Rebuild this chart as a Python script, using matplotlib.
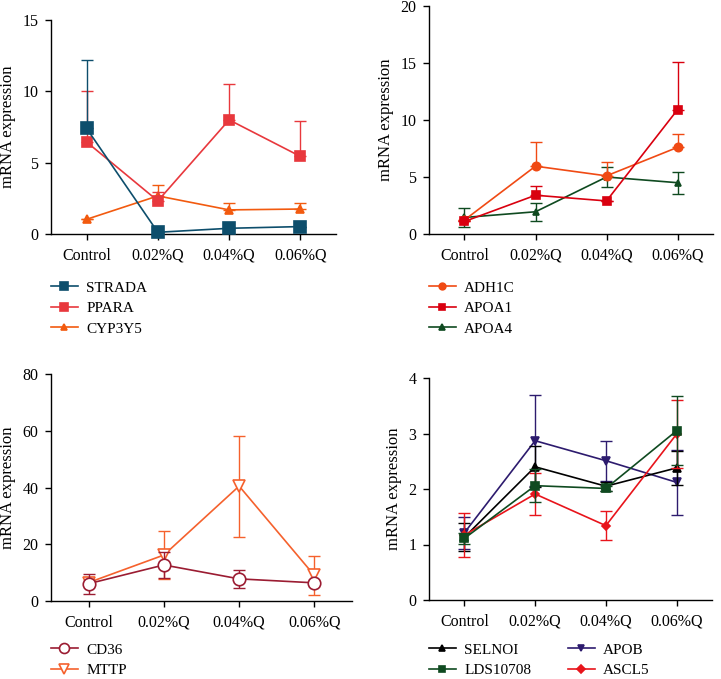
import matplotlib
matplotlib.use("Agg")
import matplotlib.pyplot as plt
import numpy as np

plt.rcParams["font.family"] = ["Liberation Serif", "DejaVu Serif"]

GROUPS = ["Control", "0.02%Q", "0.04%Q", "0.06%Q"]

# panel A
STRADA = [7.4, 0.12, 0.4, 0.52]
STRADA_ERR = [4.8, 0.0, 0.0, 0.0]
PPARA = [6.45, 2.32, 8.0, 5.44]
PPARA_ERR = [3.55, 0.65, 2.5, 2.5]
CYP3Y5 = [1.03, 2.67, 1.69, 1.75]
CYP3Y5_ERR = [0.0, 0.75, 0.5, 0.45]

# panel B
ADH1C = [1.23, 5.95, 5.1, 7.6]
ADH1C_ERR = [0.0, 2.15, 1.2, 1.2]
APOA1 = [1.1, 3.4, 2.9, 10.9]
APOA1_ERR = [0.0, 0.8, 0.0, 4.2]
APOA4 = [1.45, 1.95, 5.0, 4.5]
APOA4_ERR = [0.8, 0.8, 0.85, 0.95]

# panel C
CD36 = [6.1, 12.7, 7.8, 6.4]
CD36_ERR = [3.5, 4.5, 3.3, 0.5]
MTTP = [6.5, 16.2, 40.5, 9.0]
MTTP_ERR = [0.0, 8.6, 17.8, 6.9]

# panel D
SELNOI = [1.13, 2.4, 2.05, 2.38]
SELNOI_ERR = [0.25, 0.37, 0.08, 0.3]
APOB = [1.21, 2.87, 2.51, 2.12]
APOB_ERR = [0.29, 0.82, 0.36, 0.58]
LDS10708 = [1.11, 2.06, 2.01, 3.05]
LDS10708_ERR = [0.1, 0.3, 0.05, 0.62]
ASCL5 = [1.17, 1.91, 1.34, 2.99]
ASCL5_ERR = [0.39, 0.37, 0.26, 0.61]

TICK_FS = 11.5
LABEL_FS = 12
LEG_FS = 11
W, H = 721, 679


def rect(l, r, b, t):
    return [l / W, 1 - b / H, (r - l) / W, (b - t) / H]


def style(ax, ymax, step):
    ax.spines["top"].set_visible(False)
    ax.spines["right"].set_visible(False)
    for s in ("left", "bottom"):
        ax.spines[s].set_linewidth(1.0)
    ax.set_xlim(-0.5, 3.5)
    ax.set_ylim(0, ymax)
    ax.set_yticks(np.arange(0, ymax + 0.01, step))
    ax.set_xticks(range(len(GROUPS)))
    ax.set_xticklabels(GROUPS)
    ax.tick_params(labelsize=TICK_FS, direction="out", length=4, width=1.0)
    ax.tick_params(axis="x", pad=6)
    ax.tick_params(axis="y", pad=5)
    ax.set_ylabel("mRNA expression", fontsize=LABEL_FS, labelpad=5)


def series(ax, y, err, color, marker, label, ms, upper_only=False, mfc=None, z=2):
    x = np.arange(len(y))
    err = np.array(err)
    yerr = [np.zeros_like(err), err] if upper_only else err
    ax.errorbar(x, y, yerr=yerr, fmt="none", ecolor=color, elinewidth=1.0,
                capsize=4, capthick=1.0, zorder=z)
    line, = ax.plot(x, y, color=color, lw=1.2, marker=marker, ms=ms,
                    mfc=mfc if mfc else color, mec=color, mew=1.2,
                    label=label, zorder=z + 0.5, clip_on=False)
    return line


def legend(ax, handles, x, y, ncol=1):
    ax.legend(handles=handles, loc="upper left", bbox_to_anchor=(x / W, 1 - y / H),
              bbox_transform=ax.figure.transFigure, frameon=False, fontsize=LEG_FS,
              borderpad=0, borderaxespad=0, handlelength=1.75, handletextpad=0.55,
              labelspacing=0.45, ncol=ncol, columnspacing=2.4, markerscale=0.8)


fig = plt.figure(figsize=(W / 100, H / 100), dpi=100)

axA = fig.add_axes(rect(51, 336, 234, 20))
style(axA, 15, 5)
h3 = series(axA, CYP3Y5, CYP3Y5_ERR, "#f25a0f", "^", "CYP3Y5", 6, True, z=2)
h2 = series(axA, PPARA, PPARA_ERR, "#e8383d", "s", "PPARA", 7, True, z=3)
h1 = series(axA, STRADA, STRADA_ERR, "#0d4e6c", "s", "STRADA", 8, True, z=4)
legend(axA, [h1, h2, h3], 51, 281)

axB = fig.add_axes(rect(429, 713, 234, 6))
style(axB, 20, 5)
b3 = series(axB, APOA4, APOA4_ERR, "#0f4a20", "^", "APOA4", 5, False, z=2)
b1 = series(axB, ADH1C, ADH1C_ERR, "#f04a14", "o", "ADH1C", 6, True, z=3)
b2 = series(axB, APOA1, APOA1_ERR, "#d9000f", "s", "APOA1", 6, True, z=4)
legend(axB, [b1, b2, b3], 429, 281)

axC = fig.add_axes(rect(51, 352, 601, 374))
style(axC, 80, 20)
c2 = series(axC, MTTP, MTTP_ERR, "#f5612d", "v", "MTTP", 9, False, mfc="white", z=2)
c1 = series(axC, CD36, CD36_ERR, "#9b1c32", "o", "CD36", 9, False, mfc="white", z=3)
legend(axC, [c1, c2], 51, 643)

axD = fig.add_axes(rect(429, 712, 600, 378))
style(axD, 4, 1)
d2 = series(axD, APOB, APOB_ERR, "#2d1b6e", "v", "APOB", 6, False, z=2)
d1 = series(axD, SELNOI, SELNOI_ERR, "#000000", "^", "SELNOI", 6, False, z=3)
d4 = series(axD, ASCL5, ASCL5_ERR, "#e8141b", "D", "ASCL5", 4.5, False, z=4)
d3 = series(axD, LDS10708, LDS10708_ERR, "#0f4a20", "s", "LDS10708", 6, False, z=5)
legend(axD, [d1, d3, d2, d4], 429, 643, ncol=2)

fig.savefig("out.png", dpi=100)
